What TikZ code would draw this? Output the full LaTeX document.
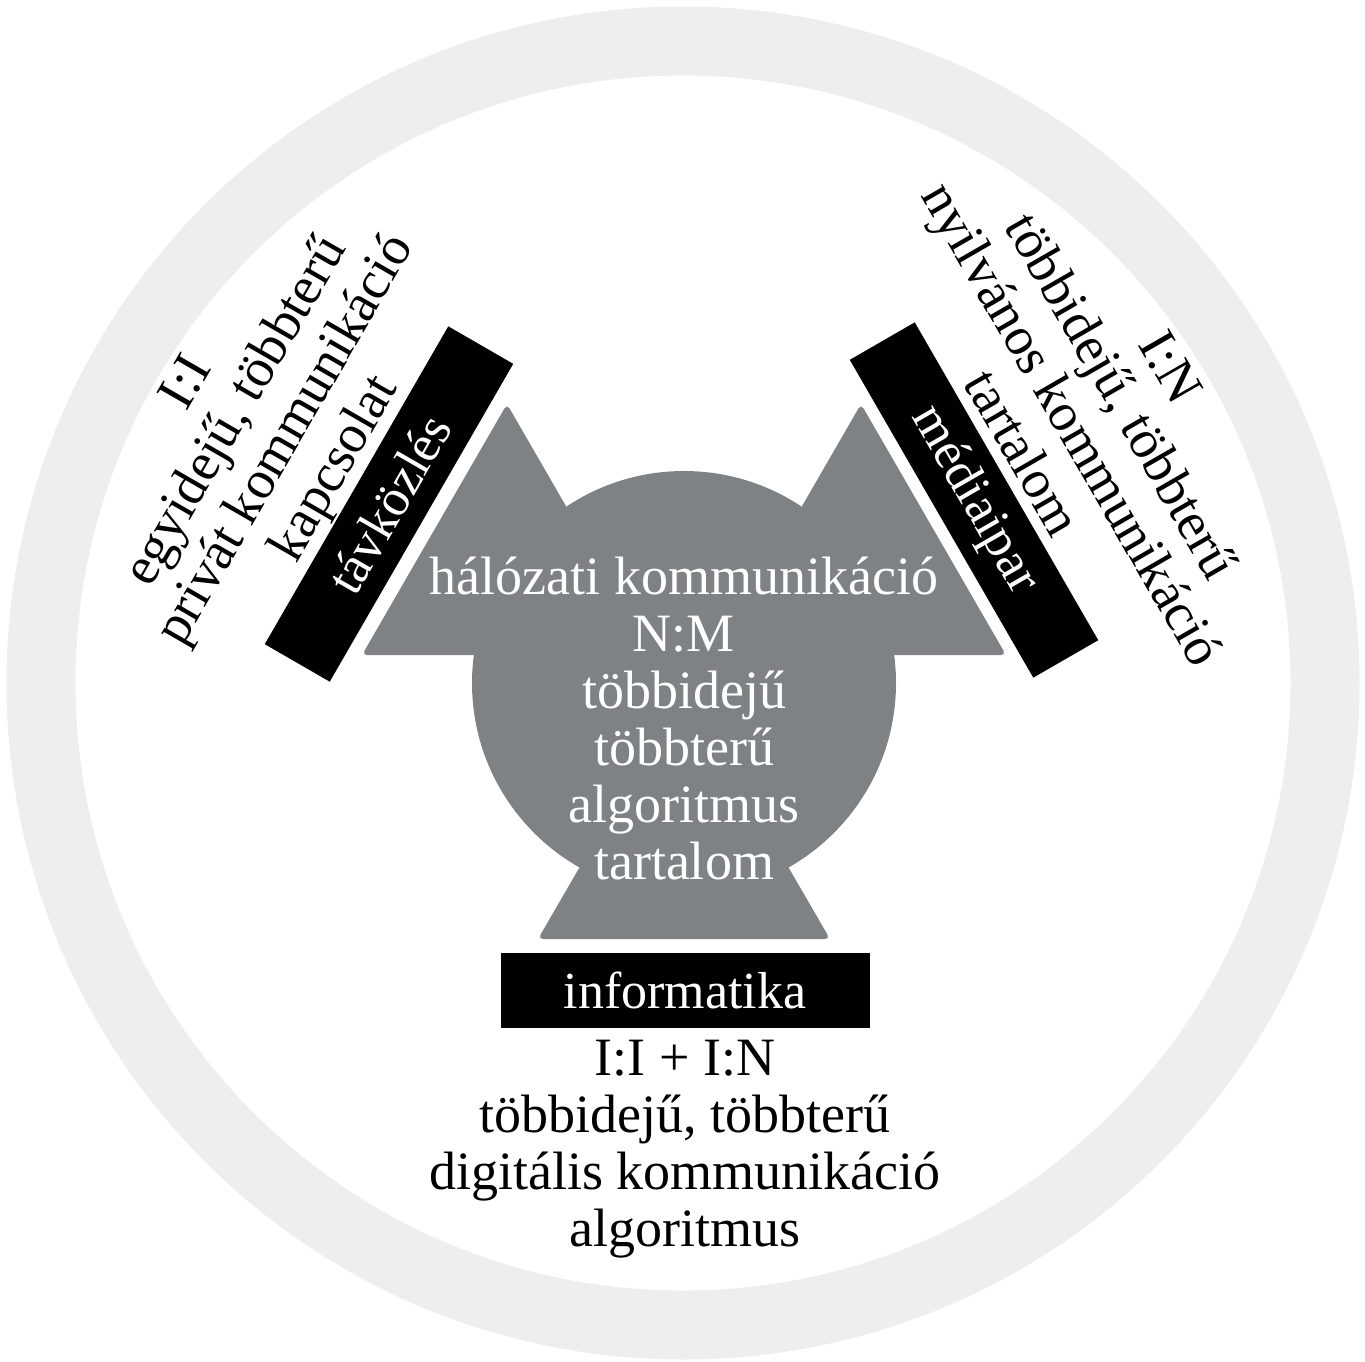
\documentclass[tikz,border=0pt]{standalone}
\usepackage{fontspec}
\setmainfont{Liberation Serif}
\usepackage{tikz}
\definecolor{ringgray}{RGB}{238,238,238}
\definecolor{hubgray}{RGB}{126,130,132}
\tikzset{
  bar/.style={fill=black, text=white, inner sep=0pt, minimum width=367pt, minimum height=75pt, font=\fontsize{52}{57}\selectfont},
  lbl/.style={align=center, inner sep=0pt, font=\fontsize{54}{57}\selectfont}
}

\begin{document}
\begin{tikzpicture}[x=1pt, y=-1pt]
\useasboundingbox (0,0) rectangle (1365,1361);
\draw [ringgray, line width=69pt] (683,683) circle [radius=642];
% hub: circle and three triangles
\fill [hubgray] (684,683) circle [radius=212];
\fill [hubgray, rounded corners=5pt] (362,655) -- (507,404) -- (652,655) -- cycle;
\fill [hubgray, rounded corners=5pt] (716,655) -- (861,404) -- (1006,655) -- cycle;
\fill [hubgray, rounded corners=5pt] (538,939) -- (684,687) -- (830,939) -- cycle;
\node [lbl, text=white] (halo) at (684,718) {hálózati kommunikáció\\N:M\\többidejű\\többterű\\algoritmus\\tartalom};
% bars
\node [bar, rotate=60] (tav) at (389,504) {távközlés};
\node [bar, rotate=-60] (media) at (974,500) {médiaipar};
\node [bar, minimum width=369pt] (info) at (685,990) {informatika};
% outer labels
\node [lbl, rotate=60] (tavtxt) at (263,427) {I:I\\egyidejű, többterű\\privát kommunikáció\\kapcsolat};
\node [lbl, rotate=-60] (mediatxt) at (1097,410) {I:N\\többidejű, többterű\\nyilvános kommunikáció\\tartalom};
\node [lbl] (infotxt) at (685,1149) {I:I + I:N\\többidejű, többterű\\digitális kommunikáció\\algoritmus};
\end{tikzpicture}
\end{document}
